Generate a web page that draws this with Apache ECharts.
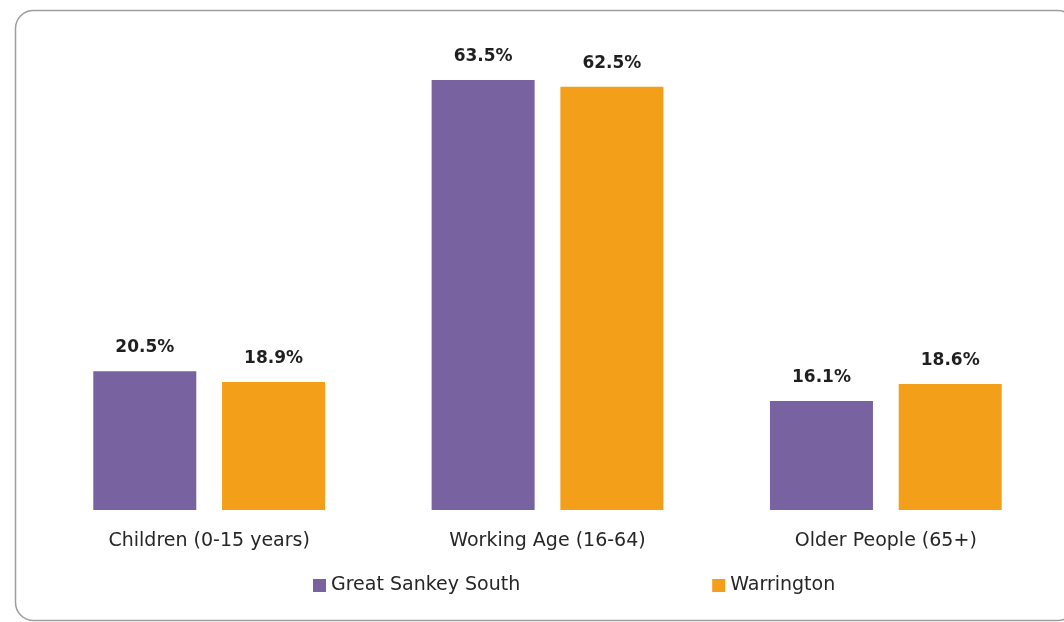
<!DOCTYPE html>
<html>
<head>
<meta charset="utf-8">
<script src="https://cdn.jsdelivr.net/npm/echarts@6/dist/echarts.min.js"></script>
<style>
  html, body { margin: 0; padding: 0; background: #fff; }
  #main { width: 1064px; height: 622px; }
</style>
</head>
<body>
<div id="main"></div>
<script>
let categories = ['Children (0-15 years)', 'Working Age (16-64)', 'Older People (65+)'];
let greatSankeySouth = [20.5, 63.5, 16.1];
let warrington = [18.9, 62.5, 18.6];
let seriesNames = ['Great Sankey South', 'Warrington'];

let fontName = 'DejaVu Sans';
var chart = echarts.init(document.getElementById('main'));

let labelStyle = {
    show: true,
    position: 'top',
    distance: 15,
    formatter: p => p.value.toFixed(1) + '%',
    fontFamily: fontName,
    fontWeight: 'bold',
    fontSize: 17,
    color: '#1f1f1f'
};

var option = {
    animation: false,
    graphic: [{
        type: 'rect',
        shape: { x: 15.5, y: 10.5, width: 1060, height: 610, r: 18 },
        style: { fill: 'none', stroke: '#9e9e9e', lineWidth: 1.5 },
        silent: true
    }],
    grid: { left: 40, right: 9, top: 36, bottom: 112 },
    legend: {
        left: 308,
        top: 571,
        itemWidth: 13,
        itemHeight: 13,
        itemGap: 192,
        icon: 'rect',
        textStyle: { fontFamily: fontName, fontSize: 19, color: '#262626' },
        data: seriesNames
    },
    xAxis: {
        type: 'category',
        data: categories,
        axisLine: { show: false },
        axisTick: { show: false },
        axisLabel: { margin: 22, fontFamily: fontName, fontSize: 19, color: '#262626' }
    },
    yAxis: {
        type: 'value',
        min: 0,
        max: 70,
        show: false,
        splitLine: { show: false }
    },
    series: [
        {
            name: seriesNames[0],
            type: 'bar',
            data: greatSankeySouth,
            barWidth: 103,
            barGap: '25%',
            itemStyle: { color: '#7862a0' },
            label: labelStyle
        },
        {
            name: seriesNames[1],
            type: 'bar',
            data: warrington,
            barWidth: 103,
            barGap: '25%',
            itemStyle: { color: '#f49f1a' },
            label: labelStyle
        }
    ]
};

chart.setOption(option);
</script>
</body>
</html>
